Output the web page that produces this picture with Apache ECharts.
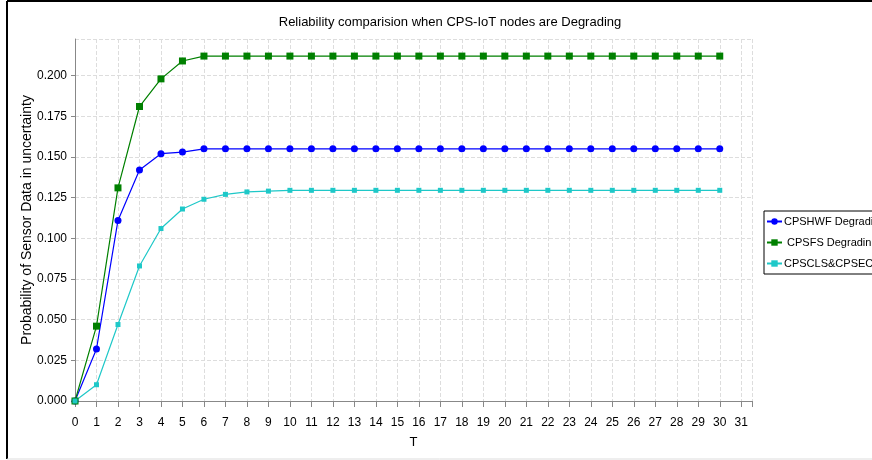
<!DOCTYPE html>
<html>
<head>
<meta charset="utf-8">
<script src="https://cdn.jsdelivr.net/npm/echarts@6/dist/echarts.min.js"></script>
<style>
  html, body { margin: 0; padding: 0; background: #fff; }
  #chart { width: 872px; height: 460px; }
</style>
</head>
<body>
<div id="chart"></div>
<script>
// T values 0..30
var tValues = [];
for (var i = 0; i <= 30; i++) tValues.push(i);

var hwfValues = [0, 0.032, 0.111, 0.142, 0.152, 0.153, 0.155, 0.155, 0.155, 0.155,
  0.155, 0.155, 0.155, 0.155, 0.155, 0.155, 0.155, 0.155, 0.155, 0.155,
  0.155, 0.155, 0.155, 0.155, 0.155, 0.155, 0.155, 0.155, 0.155, 0.155, 0.155];
var fsValues = [0, 0.046, 0.131, 0.181, 0.198, 0.209, 0.212, 0.212, 0.212, 0.212,
  0.212, 0.212, 0.212, 0.212, 0.212, 0.212, 0.212, 0.212, 0.212, 0.212,
  0.212, 0.212, 0.212, 0.212, 0.212, 0.212, 0.212, 0.212, 0.212, 0.212, 0.212];
var clsValues = [0, 0.010, 0.047, 0.083, 0.106, 0.118, 0.124, 0.127, 0.1285, 0.129,
  0.1295, 0.1295, 0.1295, 0.1295, 0.1295, 0.1295, 0.1295, 0.1295, 0.1295, 0.1295,
  0.1295, 0.1295, 0.1295, 0.1295, 0.1295, 0.1295, 0.1295, 0.1295, 0.1295, 0.1295, 0.1295];

var seriesNames = ['CPSHWF Degrading', ' CPSFS Degrading', 'CPSCLS&CPSECU Degrading'];

function pairs(vals) {
  return tValues.map(function (t, i) { return [t, vals[i]]; });
}

var myChart = echarts.init(document.getElementById('chart'));
var font = 'Liberation Sans, Arial, sans-serif';

var option = {
  animation: false,
  backgroundColor: '#fff',
  title: {
    text: 'Reliability comparision when CPS-IoT nodes are Degrading',
    left: 445,
    textAlign: 'center',
    top: 11,
    textStyle: { fontFamily: font, fontSize: 13, fontWeight: 'normal', color: '#000' }
  },
  graphic: [
    { type: 'line', shape: { x1: 7, y1: 1, x2: 872, y2: 1 }, style: { stroke: '#000', lineWidth: 2 } },
    { type: 'line', shape: { x1: 7, y1: 1, x2: 7, y2: 459 }, style: { stroke: '#000', lineWidth: 2 } },
    { type: 'line', shape: { x1: 7, y1: 459, x2: 872, y2: 459 }, style: { stroke: '#ddd', lineWidth: 1 } }
  ],
  legend: {
    left: 764,
    top: 211,
    orient: 'vertical',
    itemGap: 10,
    itemWidth: 15,
    itemHeight: 8,
    padding: [5, 8, 5, 2],
    borderColor: '#000',
    borderWidth: 1,
    textStyle: { fontFamily: font, fontSize: 11, color: '#000', padding: [0, 0, 0, -3] },
    data: seriesNames
  },
  grid: { left: 75, right: 120, top: 39, bottom: 59 },
  xAxis: {
    type: 'value',
    min: 0,
    max: 31.5,
    interval: 1,
    name: 'T',
    nameLocation: 'middle',
    nameGap: 35,
    nameMoveOverlap: false,
    nameTextStyle: { fontFamily: font, fontSize: 13, color: '#000' },
    axisLine: { show: true, lineStyle: { color: '#888' } },
    axisTick: { show: true, length: 6, lineStyle: { color: '#888' } },
    axisLabel: {
      fontFamily: font, fontSize: 12, color: '#000', margin: 16,
      formatter: function (v) { return v % 1 === 0 ? String(v) : ''; }
    },
    splitLine: { show: true, lineStyle: { color: '#ddd', type: 'dashed' } }
  },
  yAxis: {
    type: 'value',
    min: 0,
    max: 0.2225,
    interval: 0.025,
    name: 'Probability of Sensor Data in uncertainty',
    nameLocation: 'middle',
    nameGap: 41,
    nameMoveOverlap: false,
    nameTextStyle: { fontFamily: font, fontSize: 14, color: '#000' },
    axisLine: { show: true, lineStyle: { color: '#888' } },
    axisTick: { show: true, length: 4, lineStyle: { color: '#888' } },
    axisLabel: {
      fontFamily: font, fontSize: 12, color: '#000', showMaxLabel: false,
      formatter: function (v) { return v.toFixed(3); }
    },
    splitLine: { show: true, lineStyle: { color: '#ddd', type: 'dashed' } }
  },
  series: [
    {
      name: seriesNames[0], type: 'line', data: pairs(hwfValues),
      symbol: 'circle', symbolSize: 7,
      itemStyle: { color: '#0000ff' }, lineStyle: { color: '#0000ff', width: 1.2 }
    },
    {
      name: seriesNames[1], type: 'line', data: pairs(fsValues),
      symbol: 'rect', symbolSize: 7,
      itemStyle: { color: '#008000' }, lineStyle: { color: '#008000', width: 1.2 }
    },
    {
      name: seriesNames[2], type: 'line', data: pairs(clsValues),
      symbol: 'rect', symbolSize: 5,
      itemStyle: { color: '#1ec8c8' }, lineStyle: { color: '#1ec8c8', width: 1.2 }
    }
  ]
};

myChart.setOption(option);
</script>
</body>
</html>
